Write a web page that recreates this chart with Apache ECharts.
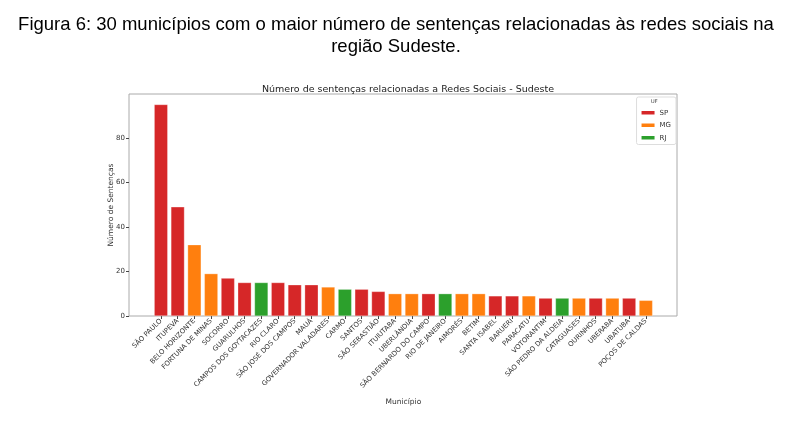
<!DOCTYPE html>
<html><head><meta charset="utf-8">
<script src="https://cdn.jsdelivr.net/npm/echarts@6/dist/echarts.min.js"></script>
<style>html,body{margin:0;padding:0;background:#fff}#c{width:785px;height:423px}</style>
</head><body><div id="c"></div>
<script>
const municipios = ['SÃO PAULO','ITUPEVA','BELO HORIZONTE','FORTUNA DE MINAS','SOCORRO','GUARULHOS','CAMPOS DOS GOYTACAZES','RIO CLARO','SÃO JOSÉ DOS CAMPOS','MAUÁ','GOVERNADOR VALADARES','CARMO','SANTOS','SÃO SEBASTIÃO','ITUIUTABA','UBERLÂNDIA','SÃO BERNARDO DO CAMPO','RIO DE JANEIRO','AIMORÉS','BETIM','SANTA ISABEL','BARUERI','PARACATU','VOTORANTIM','SÃO PEDRO DA ALDEIA','CATAGUASES','OURINHOS','UBERABA','UBATUBA','POÇOS DE CALDAS'];
const sentencas = [95,49,32,19,17,15,15,15,14,14,13,12,12,11,10,10,10,10,10,10,9,9,9,8,8,8,8,8,8,7];
const uf = ['SP','SP','MG','MG','SP','SP','RJ','SP','SP','SP','MG','RJ','SP','SP','MG','MG','SP','RJ','MG','MG','SP','SP','MG','SP','RJ','MG','SP','MG','SP','MG'];
const ufs = ['SP','MG','RJ'];
const yTicks = [0,20,40,60,80];
const colors = {SP:'#d62728', MG:'#ff7f0e', RJ:'#2ca02c'};

const chart = echarts.init(document.getElementById('c'));
const font = 'DejaVu Sans';
chart.setOption({
  animation:false,
  textStyle:{fontFamily:font},
  title:[
    {text:'Figura 6: 30 municípios com o maior número de sentenças relacionadas às redes sociais na\nregião Sudeste.',
     left:391, top:9.5, textAlign:'center',
     textStyle:{fontFamily:'Liberation Sans', fontSize:18.5, fontWeight:'normal', color:'#000', lineHeight:21.5, align:'center'}},
    {text:'Número de sentenças relacionadas a Redes Sociais - Sudeste', left:403, top:80, textAlign:'center',
     textStyle:{fontFamily:font, fontSize:9.5, fontWeight:'normal', color:'#222'}}
  ],
  legend:{data:ufs, orient:'vertical', right:109, top:97, padding:[12,5,3,3], itemWidth:15, itemHeight:5.5, itemGap:5,
    icon:'rect', borderColor:'#ddd', borderWidth:1, borderRadius:2,
    textStyle:{fontFamily:font, fontSize:7, color:'#333', padding:[0,0,0,-1]}},
  graphic:[{type:'text', left:651, top:99, style:{text:'UF', fontFamily:font, fontSize:5, fill:'#333'}}],
  grid:[
    {left:129, right:108, top:94, bottom:107, show:true, borderColor:'#aaa', borderWidth:1, backgroundColor:'transparent'},
    {left:152.6, right:130.8, top:94, bottom:107}
  ],
  xAxis:[
    {gridIndex:0, type:'value', show:false, min:0, max:1},
    {gridIndex:1, type:'category', data:municipios, boundaryGap:true,
     axisLine:{show:false}, axisTick:{show:true, alignWithLabel:true, length:3, lineStyle:{color:'#444'}},
     axisLabel:{rotate:45, fontSize:6.8, color:'#333', margin:4, interval:0, fontFamily:font},
     name:'Município', nameLocation:'middle', nameGap:82, nameMoveOverlap:false,
     nameTextStyle:{fontSize:7.5, color:'#333', fontFamily:font}}
  ],
  yAxis:[
    {gridIndex:0, type:'value', show:false, min:0, max:1},
    {gridIndex:1, type:'value', min:0, max:99.75, interval:20, offset:23.6,
     splitLine:{show:false}, axisLine:{show:false},
     axisTick:{show:true, length:3, lineStyle:{color:'#444'}},
     axisLabel:{fontSize:7, color:'#333', margin:4, showMaxLabel:false,
       formatter:v=> yTicks.includes(v) ? String(v) : ''},
     name:'Número de Sentenças', nameLocation:'middle', nameGap:14, nameRotate:90, nameMoveOverlap:false,
     nameTextStyle:{fontSize:7.5, color:'#333', fontFamily:font}}
  ],
  series: ufs.map(u=>({
    name:u, type:'bar', xAxisIndex:1, yAxisIndex:1, stack:'total', barWidth:'80%',
    itemStyle:{color:colors[u], borderColor:'#fff', borderWidth:0.3},
    data: sentencas.map((v,i)=> uf[i]===u ? v : '-')
  }))
});
</script></body></html>
